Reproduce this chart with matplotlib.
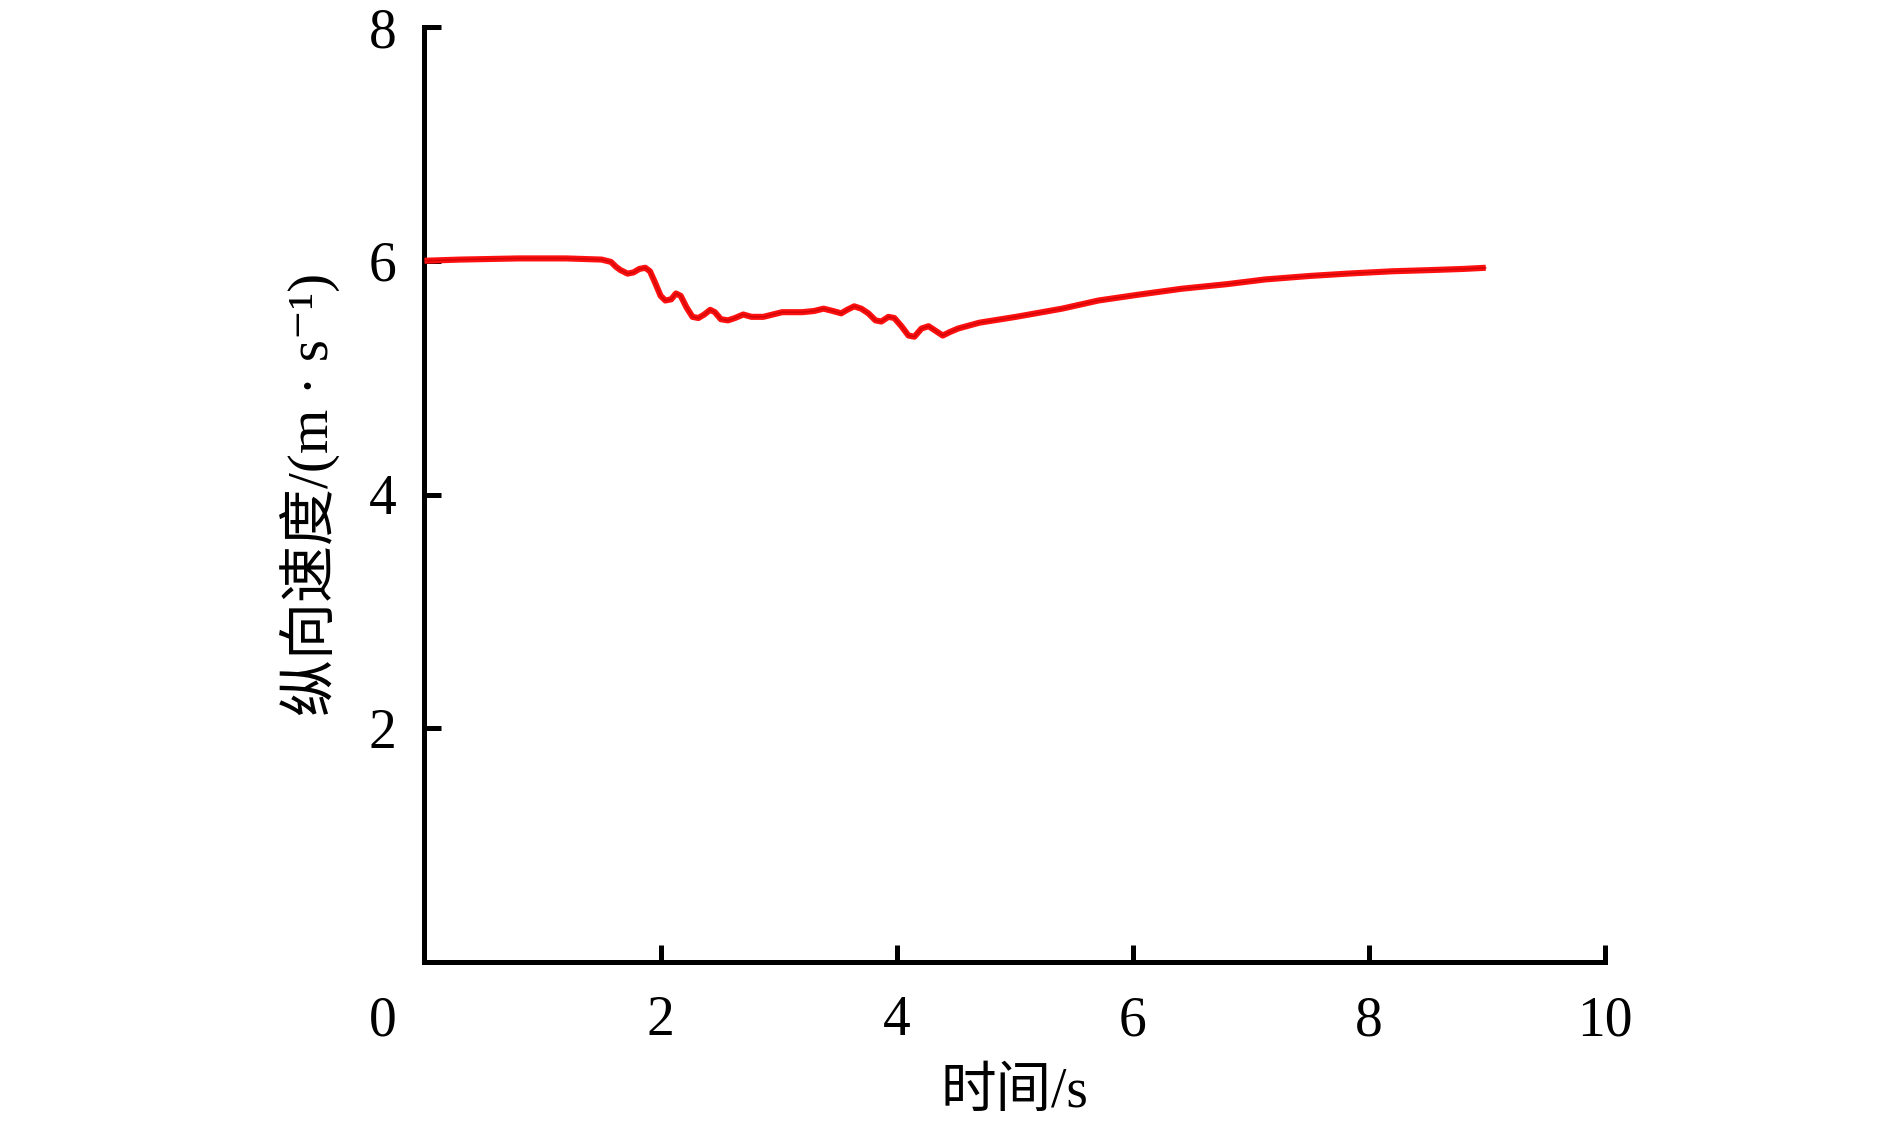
import matplotlib
matplotlib.use("Agg")
import matplotlib.pyplot as plt
import matplotlib.transforms as mtransforms
import numpy as np

# ---- data ----
time_s = [0.00, 0.30, 0.80, 1.20, 1.50, 1.58, 1.62, 1.66, 1.72, 1.77, 1.82, 1.87, 1.91,
          1.95, 2.00, 2.04, 2.09, 2.13, 2.17, 2.22, 2.27, 2.32, 2.37, 2.42, 2.46, 2.51,
          2.57, 2.63, 2.70, 2.77, 2.87, 3.03, 3.20, 3.30, 3.38, 3.46, 3.53, 3.58, 3.64,
          3.70, 3.76, 3.82, 3.87, 3.93, 3.98, 4.04, 4.10, 4.15, 4.21, 4.27, 4.33, 4.39,
          4.45, 4.52, 4.70, 5.01, 5.40, 5.71, 6.05, 6.41, 6.80, 7.12, 7.50, 7.82, 8.20,
          8.52, 8.80, 8.99]
speed = [6.00, 6.01, 6.02, 6.02, 6.01, 5.99, 5.95, 5.92, 5.89, 5.90, 5.93, 5.94, 5.91,
         5.82, 5.70, 5.66, 5.67, 5.72, 5.70, 5.60, 5.52, 5.51, 5.54, 5.58, 5.56, 5.50,
         5.49, 5.51, 5.54, 5.52, 5.52, 5.56, 5.56, 5.57, 5.59, 5.57, 5.55, 5.58, 5.61,
         5.59, 5.55, 5.49, 5.48, 5.52, 5.51, 5.44, 5.36, 5.35, 5.42, 5.44, 5.40, 5.36,
         5.39, 5.42, 5.47, 5.52, 5.59, 5.66, 5.71, 5.76, 5.80, 5.84, 5.87, 5.89, 5.91,
         5.92, 5.93, 5.94]
x_ticks = [0, 2, 4, 6, 8, 10]
y_ticks = [2, 4, 6, 8]
x_label = "时间/s"
y_label = "纵向速度/(m · s⁻¹)"

FONT = ["Liberation Serif", "Noto Sans CJK SC", "DejaVu Sans"]
plt.rcParams["font.family"] = FONT

fig = plt.figure(figsize=(18.9, 11.31), dpi=100)
ax = fig.add_axes([424.5 / 1890, 1 - 962 / 1131, (1605 - 424.5) / 1890, (962 - 27) / 1131])

ax.plot(time_s, speed, color="#ff1010", lw=4.4, solid_capstyle="butt",
        solid_joinstyle="round", zorder=3)
ax.plot(time_s, speed, color="#b00000", lw=1.2, alpha=0.55, solid_joinstyle="round", zorder=4)

ax.set_xlim(0, 10)
ax.set_ylim(0, 8)
ax.set_xticks(x_ticks)
ax.set_yticks(y_ticks)
ax.set_xticklabels([str(v) for v in x_ticks])
ax.set_yticklabels([str(v) for v in y_ticks])

for s in ["top", "right"]:
    ax.spines[s].set_visible(False)
for s in ["left", "bottom"]:
    ax.spines[s].set_linewidth(3.6)
    ax.spines[s].set_capstyle("projecting")

ax.tick_params(axis="both", direction="in", length=12, width=3.6, labelsize=40, colors="black")
ax.tick_params(axis="y", pad=20)
ax.tick_params(axis="x", pad=24)

# shift the "0" label to the corner (left of the spine)
lab0 = ax.get_xticklabels()[0]
lab0.set_transform(lab0.get_transform() + mtransforms.ScaledTranslation(-42 / 100, 0, fig.dpi_scale_trans))

ax.set_xlabel(x_label, fontsize=40, labelpad=14)
ax.set_ylabel(y_label, fontsize=41, labelpad=20)

fig.savefig("out.png", dpi=100)
